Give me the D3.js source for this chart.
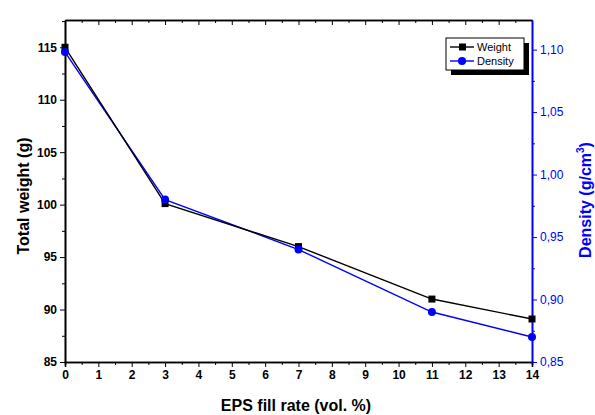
<!DOCTYPE html>
<html>
<head>
<meta charset="utf-8">
<script src="https://cdn.jsdelivr.net/npm/d3@7"></script>
<style>
  body { margin: 0; background: #fff; }
  svg { font-family: "Liberation Sans", Arial, sans-serif; }
</style>
</head>
<body>
<div id="chart"></div>
<script>
// EPS fill rate vs weight and density
const fillRate = [0, 3, 7, 11, 14];
const weight = [115.0, 100.1, 96.0, 91.0, 89.1];
const density = [1.098, 0.980, 0.940, 0.890, 0.870];
const xTicks = d3.range(0, 15);
const weightTicks = [85, 90, 95, 100, 105, 110, 115];
const densityTicks = [0.85, 0.90, 0.95, 1.00, 1.05, 1.10];

const W = 595, H = 415;
const M = { left: 65, right: 63, top: 20, bottom: 53 };
const BLUE = '#0000ff';

const svg = d3.select('#chart').append('svg')
  .attr('width', W).attr('height', H);

const x = d3.scaleLinear().domain([0, 14]).range([M.left, W - M.right]);
const yW = d3.scaleLinear().domain([85, 117.6]).range([H - M.bottom, M.top]);
const yD = d3.scaleLinear().domain([0.85, 1.1237]).range([H - M.bottom, M.top]);

const bottomY = H - M.bottom;

// Minor ticks
const xMinor = d3.range(0.5, 14, 1);
const wMinor = d3.range(87.5, 117.6, 5);
const dMinor = d3.range(0.875, 1.12, 0.05);

// Bottom axis
const gx = svg.append('g').attr('transform', `translate(0,${bottomY})`);
gx.call(d3.axisBottom(x).tickValues(xTicks).tickFormat(d3.format('d')).tickSize(5).tickPadding(3));
gx.append('g').call(d3.axisBottom(x).tickValues(xMinor).tickFormat('').tickSize(3));
gx.selectAll('.domain').attr('stroke-width', 1.6);
gx.selectAll('text').attr('font-size', 12).attr('font-weight', 'bold').attr('fill', '#000');

// Top axis (inward ticks)
const gt = svg.append('g').attr('transform', `translate(0,${M.top})`);
gt.call(d3.axisBottom(x).tickValues(xTicks).tickFormat('').tickSize(5).tickSizeOuter(0));
gt.append('g').call(d3.axisBottom(x).tickValues(xMinor).tickFormat('').tickSize(3).tickSizeOuter(0));
gt.selectAll('.domain').attr('stroke-width', 1.6);

// Left axis
const gy = svg.append('g').attr('transform', `translate(${M.left},0)`);
gy.call(d3.axisLeft(yW).tickValues(weightTicks).tickFormat(d3.format('d')).tickSize(5).tickPadding(3).tickSizeOuter(0));
gy.append('g').call(d3.axisLeft(yW).tickValues(wMinor).tickFormat('').tickSize(3).tickSizeOuter(0));
gy.selectAll('.domain').attr('stroke-width', 1.6);
gy.selectAll('text').attr('font-size', 12).attr('font-weight', 'bold').attr('fill', '#000');

// Right axis (blue)
const gr = svg.append('g').attr('transform', `translate(${W - M.right},0)`);
gr.call(d3.axisRight(yD).tickValues(densityTicks)
  .tickFormat(d => d3.format('.2f')(d).replace('.', ',')).tickSize(5).tickPadding(3).tickSizeOuter(0));
gr.append('g').call(d3.axisRight(yD).tickValues(dMinor).tickFormat('').tickSize(3).tickSizeOuter(0));
gr.selectAll('.domain').attr('stroke', BLUE).attr('stroke-width', 1.6);
gr.selectAll('line').attr('stroke', BLUE);
gr.selectAll('text').attr('font-size', 12).attr('fill', BLUE);

// Axis titles
svg.append('text')
  .attr('transform', 'translate(29,196) rotate(-90)')
  .attr('text-anchor', 'middle')
  .attr('font-size', 16).attr('font-weight', 'bold')
  .text('Total weight (g)');

svg.append('text')
  .attr('x', 296).attr('y', 411)
  .attr('text-anchor', 'middle')
  .attr('font-size', 16).attr('font-weight', 'bold')
  .text('EPS fill rate (vol. %)');

const dt = svg.append('text')
  .attr('transform', 'translate(591,200) rotate(-90)')
  .attr('text-anchor', 'middle')
  .attr('font-size', 16).attr('font-weight', 'bold').attr('fill', BLUE);
dt.append('tspan').text('Density (g/cm');
dt.append('tspan').attr('font-size', 10).attr('dy', -7).text('3');
dt.append('tspan').attr('dy', 7).text(')');

// Lines
const weightData = fillRate.map((f, i) => ({ f, v: weight[i] }));
const densityData = fillRate.map((f, i) => ({ f, v: density[i] }));

svg.append('path').datum(densityData)
  .attr('fill', 'none').attr('stroke', BLUE).attr('stroke-width', 1.4)
  .attr('d', d3.line().x(d => x(d.f)).y(d => yD(d.v)));
svg.append('path').datum(weightData)
  .attr('fill', 'none').attr('stroke', '#000').attr('stroke-width', 1.4)
  .attr('d', d3.line().x(d => x(d.f)).y(d => yW(d.v)));

svg.selectAll('.wpt').data(weightData).join('rect')
  .attr('x', d => x(d.f) - 3.5).attr('y', d => yW(d.v) - 3.5)
  .attr('width', 7).attr('height', 7).attr('fill', '#000');
svg.selectAll('.dpt').data(densityData).join('circle')
  .attr('cx', d => x(d.f)).attr('cy', d => yD(d.v))
  .attr('r', 4).attr('fill', BLUE);

// Legend
const lg = svg.append('g').attr('transform', 'translate(446,38)');
lg.append('rect').attr('x', 5).attr('y', 5).attr('width', 78).attr('height', 32).attr('fill', '#000');
lg.append('rect').attr('x', 0).attr('y', 0).attr('width', 78).attr('height', 32)
  .attr('fill', '#fff').attr('stroke', '#000').attr('stroke-width', 1);
[['Weight', '#000', 'sq'], ['Density', BLUE, 'ci']].forEach(([lab, col, m], i) => {
  const yy = 9 + i * 14;
  lg.append('line').attr('x1', 4).attr('x2', 28).attr('y1', yy).attr('y2', yy)
    .attr('stroke', col).attr('stroke-width', 1.4);
  if (m === 'sq') lg.append('rect').attr('x', 13).attr('y', yy - 3.5).attr('width', 7).attr('height', 7).attr('fill', col);
  else lg.append('circle').attr('cx', 16).attr('cy', yy).attr('r', 4).attr('fill', col);
  lg.append('text').attr('x', 31).attr('y', yy + 4).attr('font-size', 11).attr('fill', '#000').text(lab);
});
</script>
</body>
</html>
